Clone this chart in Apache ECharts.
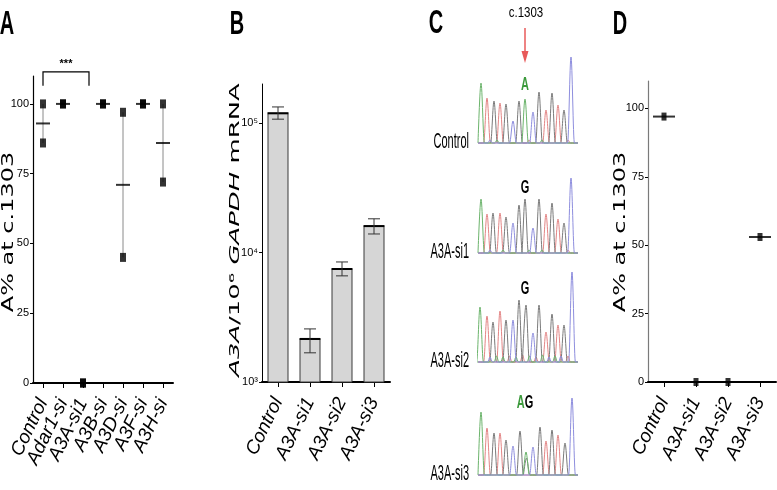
<!DOCTYPE html>
<html><head><meta charset="utf-8">
<script src="https://cdn.jsdelivr.net/npm/echarts@6/dist/echarts.min.js"></script>
<style>html,body{margin:0;padding:0;background:#fff}#c{width:777px;height:490px}</style>
</head><body><div id="c"></div>
<script>
// ---------- Panel A ----------
const catsA = ['Control','Adar1-si','A3A-si1','A3B-si','A3D-si','A3F-si','A3H-si'];
const pointsA = [[100,86],[100,100],[0,0],[100,100],[97,45],[100,100],[100,72]];
const meansA = [93,100,0,100,71,100,86];
const ticksA = [0,25,50,75,100];
const sigA = [[0, 2.3, 111.5, 106.5]]; // from cat, to cat, top value, leg value
// ---------- Panel B ----------
const catsB = ['Control','A3A-si1','A3A-si2','A3A-si3'];
const barB = [119000, 2150, 7460, 16000];
const errLowB = [107000, 1680, 6600, 13900];
const errHighB = [133000, 2570, 8450, 18200];
const ticksB = [1000, 10000, 100000];
const tickLabelsB = ['10³','10⁴','10⁵'];
// ---------- Panel D ----------
const catsD = ['Control','A3A-si1','A3A-si2','A3A-si3'];
const pointsD = [[97],[0],[0],[53]];
const meansD = [97,0,0,53];
const ticksD = [0,25,50,75,100];
// ---------- Panel C (chromatogram peaks: [position, base, height]) ----------
const traceNames = ['Control','A3A-si1','A3A-si2','A3A-si3'];
const peaks1 = [[3,'A',60],[9,'T',45],[16,'G',42],[22,'T',40],[28,'G',39],[35,'C',22],[41,'G',42],[47,'A',44],[55,'C',31],[61,'G',51],[68,'T',33],[74,'G',50],[80,'T',38],[86,'G',33],[93,'C',86],
  [12,'C',3],[19,'A',3],[51,'T',3],[64,'A',3],[90,'T',3]];
const peaks2 = [[3,'A',54],[9,'T',39],[15,'G',40],[22,'T',40],[28,'G',36],[35,'C',30],[41,'G',48],[47,'G',54],[55,'C',25],[61,'G',54],[68,'T',39],[74,'G',50],[80,'T',34],[86,'G',30],[93,'C',75],
  [12,'C',3],[25,'A',3],[51,'A',3],[64,'A',3],[90,'T',3]];
const peaks3 = [[2,'A',55],[9,'T',46],[15,'G',40],[22,'T',51],[28,'G',42],[35,'C',42],[41,'G',62],[48,'G',57],[55,'C',29],[61,'G',57],[68,'T',30],[74,'G',48],[80,'T',37],[86,'G',37],[94,'C',90],
  [12,'C',5],[18.5,'A',6],[25,'A',5],[31.5,'T',6],[38,'A',5],[44.5,'T',7],[51.5,'A',6],[58,'T',5],[64.5,'A',7],[71,'C',5],[77,'A',6],[83,'C',6],[90,'T',6]];
const peaks4 = [[3,'A',63],[9,'T',47],[16,'G',42],[22,'T',42],[28,'G',35],[35,'C',29],[42,'G',44],[48,'A',23],[48.5,'G',17],[55,'C',28],[62,'G',48],[68,'T',34],[74,'G',45],[80,'T',40],[87,'G',32],[94,'C',77]];
const tracePeaks = [peaks1, peaks2, peaks3, peaks4];
const traceBaselines = [143, 253, 362, 475];

const baseColors = {A:'#6cb46c', T:'#e38484', G:'#7a7a7a', C:'#8e8ede'};
const narrow = '"Liberation Sans Narrow","Arial Narrow","Liberation Sans",sans-serif';
const sans = '"Liberation Sans",Arial,sans-serif';

const chart = echarts.init(document.getElementById('c'));

const grids = [
  {left:33, top:76, width:140, height:307, outerBoundsMode:'none'},
  {left:262, top:84, width:128, height:298, outerBoundsMode:'none'},
  {left:648, top:81, width:128, height:301, outerBoundsMode:'none'}
];
traceBaselines.forEach(b => grids.push({left:478, top:b-90, width:100, height:90, outerBoundsMode:'none'}));

function catAxis(grid, data) {
  return {type:'category', gridIndex:grid, data:data, boundaryGap:true,
    axisLine:{show:true, lineStyle:{color:'#000', width:2}},
    axisTick:{show:true, alignWithLabel:true, length:5, lineStyle:{color:'#000', width:1}},
    axisLabel:{show:true, interval:0, rotate:64, fontSize:19, fontStyle:'italic', fontFamily:sans, color:'#000', margin:17},
    splitLine:{show:false}};
}
function valAxis(grid, ticks, axisColor) {
  return {type:'value', gridIndex:grid, min:0, max:110,
    axisLine:{show:true, lineStyle:{color:axisColor, width:1.2}},
    axisTick:{show:true, length:3, customValues:ticks, lineStyle:{color:'#000'}},
    axisLabel:{show:true, customValues:ticks, fontSize:11, fontFamily:narrow, color:'#000', margin:4},
    splitLine:{show:false}};
}

const xAxis = [catAxis(0, catsA), catAxis(1, catsB), catAxis(2, catsD)];
const yAxis = [valAxis(0, ticksA, '#000'),
  {type:'log', logBase:10, gridIndex:1, min:1000, max:200000,
    axisLine:{show:true, lineStyle:{color:'#000', width:1}},
    axisTick:{show:true, length:3, customValues:ticksB, lineStyle:{color:'#000'}},
    axisLabel:{show:true, customValues:ticksB, fontSize:11, fontFamily:narrow, color:'#000', margin:4,
      formatter: v => { const i = ticksB.findIndex(t => Math.abs(Math.log10(t) - Math.log10(v)) < 0.01); return i >= 0 ? tickLabelsB[i] : ''; }},
    splitLine:{show:false}, minorTick:{show:false}},
  valAxis(2, ticksD, '#7a7a7a')];
for (let t = 0; t < 4; t++) {
  xAxis.push({type:'value', gridIndex:3+t, min:0, max:100, show:false});
  yAxis.push({type:'value', gridIndex:3+t, min:0, max:90, show:false});
}

const series = [];
// range lines (A)
series.push({type:'custom', xAxisIndex:0, yAxisIndex:0, clip:false, z:2, silent:true,
  data: pointsA.map((p,i) => [i, Math.min(...p), Math.max(...p)]),
  renderItem(params, api) {
    const a = api.coord([api.value(0), api.value(1)]), b = api.coord([api.value(0), api.value(2)]);
    return {type:'line', shape:{x1:a[0], y1:a[1], x2:b[0], y2:b[1]}, style:{stroke:'#8a8a8a', lineWidth:1}};
  }});
// markers A
series.push({type:'scatter', xAxisIndex:0, yAxisIndex:0, clip:false, z:4, silent:true,
  symbol:'rect', symbolSize:[6,9], itemStyle:{color:'#000'},
  data: pointsA.flatMap((p,i) => p.map(v => [i, v]))});
// means A
series.push({type:'scatter', xAxisIndex:0, yAxisIndex:0, clip:false, z:5, silent:true,
  symbol:'rect', symbolSize:[14,2], itemStyle:{color:'#000'},
  data: meansA.map((v,i) => [i, v])});
// significance bracket
series.push({type:'custom', xAxisIndex:0, yAxisIndex:0, clip:false, z:5, silent:true,
  data: sigA,
  renderItem(params, api) {
    const c0 = api.coord([api.value(0), api.value(2)]);
    const f = api.value(1), fi = Math.floor(f);
    const ca = api.coord([fi, api.value(2)]), cb = api.coord([fi+1, api.value(2)]);
    const x2 = ca[0] + (cb[0]-ca[0])*(f-fi);
    const yTop = c0[1], yLeg = api.coord([0, api.value(3)])[1];
    return {type:'group', children:[
      {type:'polyline', shape:{points:[[c0[0], yLeg],[c0[0], yTop],[x2, yTop],[x2, yLeg]]}, style:{stroke:'#000', lineWidth:1.2, fill:null}},
      {type:'text', style:{text:'***', x:(c0[0]+x2)/2, y:yTop-2, align:'center', verticalAlign:'bottom', textAlign:'center', textVerticalAlign:'bottom', font:'bold 11px '+narrow, fill:'#000'}}
    ]};
  }});
// bars B
series.push({type:'bar', xAxisIndex:1, yAxisIndex:1, barWidth:21, clip:true, silent:true,
  itemStyle:{color:'#d6d6d6', borderColor:'#3a3a3a', borderWidth:1},
  data: barB});
// error bars B
series.push({type:'custom', xAxisIndex:1, yAxisIndex:1, clip:false, z:5, silent:true,
  data: barB.map((v,i) => [i, errLowB[i], errHighB[i], v]),
  renderItem(params, api) {
    const i = api.value(0);
    const lo = api.coord([i, api.value(1)]), hi = api.coord([i, api.value(2)]), top = api.coord([i, api.value(3)]);
    const x = lo[0];
    return {type:'group', children:[
      {type:'line', shape:{x1:x-10.5, y1:top[1], x2:x+10.5, y2:top[1]}, style:{stroke:'#000', lineWidth:2}},
      {type:'line', shape:{x1:x, y1:lo[1], x2:x, y2:hi[1]}, style:{stroke:'#333', lineWidth:1}},
      {type:'line', shape:{x1:x-6, y1:lo[1], x2:x+6, y2:lo[1]}, style:{stroke:'#333', lineWidth:1}},
      {type:'line', shape:{x1:x-6, y1:hi[1], x2:x+6, y2:hi[1]}, style:{stroke:'#333', lineWidth:1}}
    ]};
  }});
// markers D
series.push({type:'scatter', xAxisIndex:2, yAxisIndex:2, clip:false, z:4, silent:true,
  symbol:'rect', symbolSize:[5,8], itemStyle:{color:'#000'},
  data: pointsD.flatMap((p,i) => p.map(v => [i, v]))});
series.push({type:'scatter', xAxisIndex:2, yAxisIndex:2, clip:false, z:5, silent:true,
  symbol:'rect', symbolSize:[22,2], itemStyle:{color:'#000'},
  data: meansD.map((v,i) => (v > 0 ? [i, v] : null)).filter(d => d)});
// chromatograms
tracePeaks.forEach((pk, t) => {
  ['T','G','A','C'].forEach(base => {
    const list = pk.filter(p => p[1] === base).sort((a,b) => a[0]-b[0]);
    const data = [[0,0]];
    list.forEach(p => {
      const hw = p[2] < 10 ? 2.4 : 3.4;
      data.push([p[0]-hw, 0], [p[0], p[2]], [p[0]+hw, 0]);
    });
    data.push([100,0]);
    series.push({type:'line', xAxisIndex:3+t, yAxisIndex:3+t, data, symbol:'none', silent:true,
      smooth:0.35, smoothMonotone:'x', clip:false,
      lineStyle:{color:baseColors[base], width:1}});
  });
});

function txt(text, x, y, font, opts) {
  opts = opts || {};
  const el = {type:'text', x:x, y:y, silent:true,
    rotation: opts.rotation || 0, scaleX: opts.scaleX || 1, scaleY: opts.scaleY || 1,
    style:{text:text, font:font, fill: opts.fill || '#000',
      align: opts.align || 'center', verticalAlign:'middle',
      textAlign: opts.align || 'center', textVerticalAlign:'middle', rich: opts.rich}};
  return el;
}
const graphic = [
  txt('A', 7, 25, 'bold 20px '+sans, {scaleY:1.65}),
  txt('B', 237, 25, 'bold 20px '+sans, {scaleY:1.65}),
  txt('C', 436, 24, 'bold 20px '+sans, {scaleY:1.65}),
  txt('D', 620, 25, 'bold 20px '+sans, {scaleY:1.65}),
  txt('A% at c.1303', 9, 232, '16px "DejaVu Sans",sans-serif', {rotation:Math.PI/2, scaleX:1.5}),
  txt('A% at c.1303', 621, 232, '16px "DejaVu Sans",sans-serif', {rotation:Math.PI/2, scaleX:1.5}),
  txt('{i|A3A}/10⁶ {i|GAPDH} mRNA', 235, 230, '14px "DejaVu Sans",sans-serif',
    {rotation:Math.PI/2, scaleX:1.85, rich:{i:{fontStyle:'italic', fontSize:14, fontFamily:'"DejaVu Sans",sans-serif'}}}),
  txt('c.1303', 526, 12.5, '11.5px '+sans, {scaleY:1.35}),
  {type:'line', silent:true, shape:{x1:525, y1:28, x2:525, y2:54}, style:{stroke:'#e85a5a', lineWidth:1.5}},
  {type:'polygon', silent:true, shape:{points:[[521.5,51],[528.5,51],[525,63]]}, style:{fill:'#e85a5a'}},
  txt('A', 525, 85.5, 'bold 11px '+sans, {scaleY:1.6, fill:'#3c9a3c'}),
  txt('G', 525, 188, 'bold 11px '+sans, {scaleY:1.6}),
  txt('G', 525, 289, 'bold 11px '+sans, {scaleY:1.6}),
  txt('{a|A}{g|G}', 525, 403, 'bold 11px '+sans, {scaleY:1.6,
    rich:{a:{fill:'#3c9a3c', font:'bold 11px '+sans}, g:{fill:'#000', font:'bold 11px '+sans}}})
];
traceNames.forEach((n, t) => {
  graphic.push(txt(n, 469, traceBaselines[t]-1.5, '11px '+sans, {align:'right', scaleY:2.0}));
});

chart.setOption({animation:false, backgroundColor:'#fff', grid:grids, xAxis, yAxis, series, graphic});
</script>
</body></html>
